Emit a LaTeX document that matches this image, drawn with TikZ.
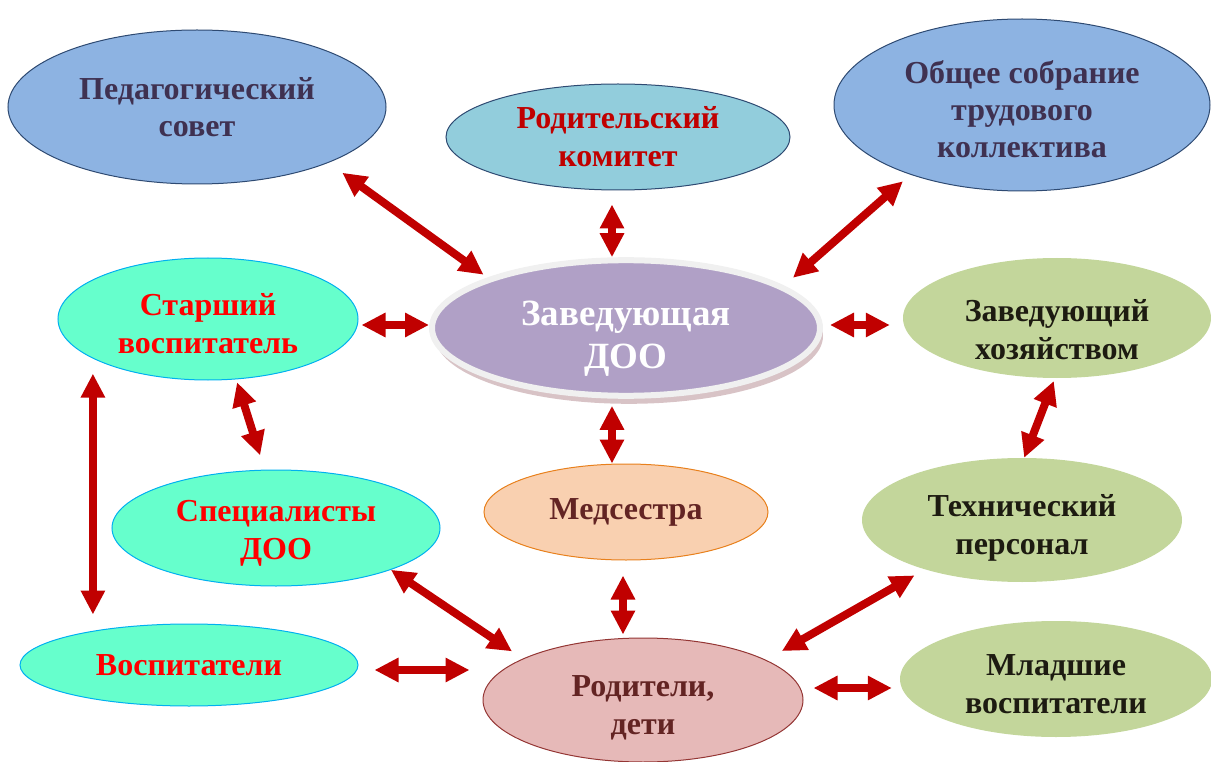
\documentclass[tikz,border=0pt]{standalone}
\usepackage{fontspec}
\setmainfont{Liberation Serif}
\usetikzlibrary{shapes.geometric,arrows.meta,shadows}
\definecolor{blueA}{HTML}{8DB3E2}
\definecolor{navyA}{HTML}{2E4A72}
\definecolor{textA}{HTML}{3F3151}
\definecolor{tealA}{HTML}{92CDDC}
\definecolor{aquaA}{HTML}{66FFCC}
\definecolor{cyanA}{HTML}{00B0F0}
\definecolor{purpleA}{HTML}{B0A0C6}
\definecolor{ringA}{HTML}{F0F0F0}
\definecolor{shadowA}{HTML}{D8C3C6}
\definecolor{greenA}{HTML}{C3D69B}
\definecolor{darkA}{HTML}{1D1B11}
\definecolor{peachA}{HTML}{F9D0B0}
\definecolor{orangeA}{HTML}{E8801C}
\definecolor{pinkA}{HTML}{E6B9B8}
\definecolor{wineA}{HTML}{943634}
\definecolor{brownA}{HTML}{632423}
\definecolor{arrowred}{HTML}{C00000}
\newcommand{\padtop}[1]{\rule{0pt}{#1pt}}
\begin{document}
\begin{tikzpicture}[x=1pt,y=-1pt,
  box/.style={ellipse, inner sep=0pt, align=center, font=\bfseries\fontsize{32}{38}\selectfont},
  bluebox/.style={box, fill=blueA, draw=navyA, line width=1pt, text=textA, font=\bfseries\fontsize{32}{37}\selectfont},
  tealbox/.style={box, fill=tealA, draw=navyA, line width=1pt, text=arrowred},
  aquabox/.style={box, fill=aquaA, draw=cyanA, line width=1pt, text=red},
  greenbox/.style={box, fill=greenA, text=darkA},
  zavbox/.style={box, fill=purpleA, draw=ringA, line width=6pt, text=white,
    font=\bfseries\fontsize{37}{43}\selectfont,
    drop shadow={shadow xshift=3pt, shadow yshift=-8pt, fill=shadowA, opacity=1}},
  link/.style={<->, >={Triangle[width=23pt,length=24pt]}, draw=arrowred, line width=8pt}]
\useasboundingbox (0,0) rectangle (1211,762);
\node[bluebox, minimum width=378, minimum height=154] (ped) at (197,107) {Педагогический\\совет};
\node[tealbox, minimum width=344, minimum height=106] (rodkom) at (618,137) {Родительский\\комитет};
\node[bluebox, minimum width=376, minimum height=172] (obsh) at (1022,105) {\padtop{32}Общее собрание\\трудового\\коллектива};
\node[aquabox, minimum width=300, minimum height=122] (star) at (208,319) {\padtop{32}Старший\\воспитатель};
\node[zavbox, minimum width=388, minimum height=134] (zav) at (626,328) {\padtop{45}Заведующая\\ДОО};
\node[greenbox, minimum width=308, minimum height=120] (zavhoz) at (1057,318) {\padtop{46}Заведующий\\хозяйством};
\node[aquabox, minimum width=328, minimum height=116] (spec) at (276,528) {\padtop{32}Специалисты\\ДОО};
\node[box, fill=peachA, draw=orangeA, line width=1pt, text=brownA, minimum width=284, minimum height=96] (med) at (626,512) {Медсестра};
\node[greenbox, minimum width=320, minimum height=124] (tech) at (1022,520) {\padtop{38}Технический\\персонал};
\node[aquabox, minimum width=338, minimum height=82] (vosp) at (189,665) {Воспитатели};
\node[box, fill=pinkA, draw=wineA, line width=1pt, text=brownA, minimum width=320, minimum height=124] (rod) at (643,700) {\padtop{36}Родители,\\дети};
\node[greenbox, minimum width=312, minimum height=116] (mlad) at (1056,679) {\padtop{32}Младшие\\воспитатели};
\draw[link, shorten <=17pt, shorten >=5pt] (ped.-23) -- (zav.160);
\draw[link, shorten <=14pt] ([xshift=-6pt]rodkom.south) -- ([xshift=-14pt]zav.north);
\draw[link, shorten <=10pt, shorten >=12pt] (obsh.212) -- (zav.15);
\draw[link, shorten <=3pt] ([yshift=-6pt]star.east) -- ([yshift=3pt]zav.west);
\draw[link, shorten <=7pt, shorten >=13pt] ([yshift=3pt]zav.east) -- ([yshift=-7pt]zavhoz.west);
\draw[link, shorten <=3pt, shorten >=15pt] (star.-65) -- (spec.101);
\draw[link, shorten <=15pt, shorten >=9pt] (star.199) -- (star.199 |- vosp.north);
\draw[link, shorten <=7pt] ([xshift=-14pt]zav.south) -- ([xshift=-14pt]zav.south |- med.north);
\draw[link, shorten <=3pt] (zavhoz.-92) -- (tech.88);
\draw[link, shorten >=13pt] (spec.-20) -- (rod.161);
\draw[link, shorten <=15pt, shorten >=3pt] ([xshift=-3pt]med.south) -- ([xshift=-20pt]rod.north);
\draw[link, shorten <=16pt, shorten >=13pt] ([yshift=-5pt]vosp.east) -- ([yshift=-5pt]vosp.east -| rod.west);
\draw[link, shorten <=12pt, shorten >=18pt] (tech.207) -- (rod.18);
\draw[link, shorten <=10pt, shorten >=8pt] ([yshift=12pt]rod.east) -- ([yshift=12pt]rod.east -| mlad.west);
\end{tikzpicture}
\end{document}
